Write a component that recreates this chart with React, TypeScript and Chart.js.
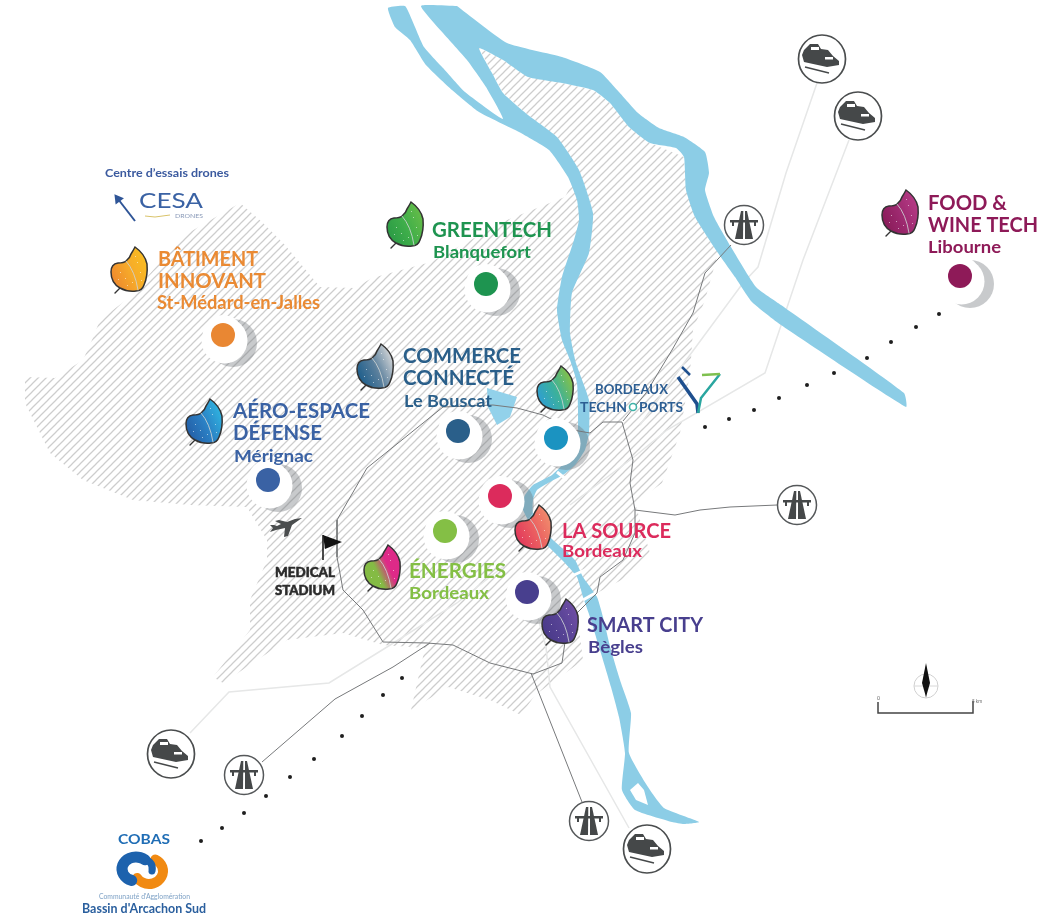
import React, { useEffect, useRef } from "react";
import { Chart, registerables } from "chart.js";

Chart.register(...registerables);

type P = [number, number];

// ---- map outlines (in picture units) ----
const hatchedArea: P[] = [[25,377],[55,378],[83,360],[92,340],[100,320],[130,297],[160,262],[190,232],[240,203],[262,222],[285,245],[320,287],[355,288],[372,278],[431,262],[507,220],[565,197],[579,170],[557,137],[528,115],[503,93],[492,73],[479,48],[503,60],[528,77],[562,83],[593,90],[610,103],[629,127],[650,143],[684,157],[686,190],[695,217],[718,253],[705,300],[693,330],[690,373],[680,433],[662,483],[635,503],[650,553],[627,577],[597,593],[577,613],[583,660],[560,677],[535,695],[521,715],[490,700],[448,687],[411,710],[425,648],[383,645],[343,633],[287,640],[223,683],[213,677],[250,630],[250,600],[267,560],[267,540],[247,507],[190,505],[133,500],[83,480],[50,453],[25,403],[25,377]];

const garonneUpper: P[] = [[457,6],[507,43],[562,57],[600,72],[619,92],[638,113],[659,128],[684,137],[705,152],[709,173],[705,190],[714,217],[731,247],[756,287],[781,305],[904,393],[906,407],[781,325],[752,302],[735,277],[718,253],[695,217],[686,190],[684,157],[676,148],[650,143],[629,127],[610,103],[593,90],[562,83],[528,77],[503,60],[479,48],[492,73],[503,93],[528,115],[557,137],[579,170],[593,213],[589,253],[572,293],[570,333],[576,363],[589,400],[589,433],[585,450],[575,465],[563,475],[550,482],[537,490],[533,500],[533,513],[550,537],[575,560],[583,577],[597,597],[603,617],[611,650],[621,683],[631,713],[629,753],[648,787],[664,808],[699,822],[684,824],[672,822],[635,810],[622,790],[625,753],[619,717],[611,687],[600,650],[590,617],[583,597],[577,577],[562,560],[540,538],[527,518],[522,507],[525,495],[533,485],[552,475],[565,462],[573,450],[578,430],[577,383],[570,360],[562,340],[557,310],[562,277],[574,240],[579,220],[577,200],[568,177],[549,150],[519,132],[479,112],[452,90],[426,65],[410,40],[395,27],[388,8],[405,6],[412,20],[424,47],[443,68],[465,92],[503,119],[486,87],[467,60],[443,33],[421,6],[457,6]];
const riverIsland: P[] = [[630,790],[638,783],[644,790],[648,805],[636,800],[630,790]];
const bouscatLake: P[] = [[487,388],[517,397],[510,417],[497,425],[488,407],[487,388]];
const bridgeA: P[] = [[557,472],[567,480]];
const bridgeB: P[] = [[574,575],[587,569]];
const bridgeC: P[] = [[583,600],[597,592]];

// ---- roads ----
const ringRoad: P[] = [[443,407],[367,468],[337,520],[337,557],[343,590],[363,610],[383,642],[427,643],[453,645],[490,663],[533,674],[562,663],[565,642],[577,613],[597,593],[600,577],[623,560],[635,533],[635,510],[630,483],[633,460],[622,422],[603,422],[590,433],[573,430],[543,415],[517,408],[493,405],[443,407]];
const motorwayNorthEast: P[] = [[623,421],[646,393],[672,350],[693,313],[705,273],[731,245]];
const motorwayEast: P[] = [[635,510],[675,515],[700,510],[730,507],[777,505]];
const motorwaySouthWest: P[] = [[430,643],[393,667],[335,699],[262,762]];
const motorwaySouth: P[] = [[531,673],[582,802]];
const railNorthA: P[] = [[817,83],[786,173],[758,267],[743,283],[684,363],[640,425]];
const railNorthB: P[] = [[849,140],[803,260],[765,373],[667,430],[634,457],[570,505]];
const railSouthWest: P[] = [[190,733],[229,692],[329,683],[387,647],[457,603],[505,565]];
const railSouth: P[] = [[629,828],[550,687],[546,647],[533,600]];

// ---- dotted links ----
const dotsLibourne: P[] = [[705,427],[729,419],[754,410],[779,398],[807,385],[834,373],[867,358],[891,342],[916,327],[939,314]];
const dotsArcachon: P[] = [[402,678],[383,695],[362,716],[342,736],[314,759],[290,777],[266,796],[244,813],[222,828],[201,841]];

// ---- places ----
const hubPositions: P[] = [[223,335],[486,284],[458,431],[268,480],[556,438],[500,496],[445,531],[527,592],[960,276]];
const hubColours = ["#e98733","#1e9450","#2a5f8a","#3a62a4","#1b93c1","#dc2b5c","#84bf45","#483f8e","#8e1a58"];
const butterflyPositions: P[] = [[129,270],[405,225],[375,367],[204,422],[555,389],[533,528],[382,568],[560,622],[900,213]];
const butterflyStops: string[][] = [
  ["#ee8a2e","#f6a92a","#f9bb22"],
  ["#2c9c46","#3fae4a","#62bb48"],
  ["#1f5f8c","#5a7f9c","#c9ced2"],
  ["#2460a8","#2b80c4","#2fb0de"],
  ["#2f9fd0","#3cb19a","#82c04c"],
  ["#e23a5c","#eb5e60","#f0896c"],
  ["#84bb44","#84bb44","#de2a88","#de2a88"],
  ["#4a3a8a","#574395","#6d4da3"],
  ["#8a1c5a","#9e2a70","#b43a84"],
];
const trainPositions: P[] = [[822,59],[858,116],[171,754],[647,849]];
const motorwayPositions: P[] = [[744,225],[797,505],[244,775],[589,821]];

// ---- texts ----
const labelTexts = ["BÂTIMENT","INNOVANT","St-Médard-en-Jalles","GREENTECH","Blanquefort","COMMERCE","CONNECTÉ","Le Bouscat","AÉRO-ESPACE","DÉFENSE","Mérignac","LA SOURCE","Bordeaux","ÉNERGIES","Bordeaux","SMART CITY","Bègles","FOOD &","WINE TECH","Libourne","BORDEAUX","TECHN","PORTS","MEDICAL","STADIUM","Centre d’essais drones","CESA","DRONES","COBAS","Communauté d'Agglomération","Bassin d'Arcachon Sud","0","5 km"];
const labelX = [158,158,157,432,433,403,403,404,233,233,234,562,562,409,409,587,588,928,928,928,595,580,639,275,275,105,139,175,118,99,82,877,972];
const labelY = [266,288,309,237,258,363,385,407,418,440,462,538,557,578,599,632,653,210,232,253,394,412,412,577,595,177,208,218,844,899,913,700,703];
const labelWidth = [100,108,163,120,98,118,111,88,137,89,79,109,80,97,80,116,55,79,110,73,73,47,44,60,60,124,64,28,52,91,124,3,10];
const labelSize = [20,20,18,20,17,20,20,17,20,20,17,20,17,20,17,20,17,20,20,17,14,14,14,13,13,11,22,6,14,7,13,6,6];
const labelWeight = [700,700,700,700,700,700,700,700,700,700,700,700,700,700,700,700,700,700,700,700,700,700,700,900,900,700,400,400,700,400,700,400,400];
const labelColour = ["#ea8a33","#ea8a33","#ea8a33","#1e9450","#1e9450","#2a5f8a","#2a5f8a","#2a5f8a","#3a62a4","#3a62a4","#3a62a4","#dc2b5c","#dc2b5c","#84bf45","#84bf45","#483f8e","#483f8e","#8e1a58","#8e1a58","#8e1a58","#2c5e93","#2c5e93","#2c5e93","#2b2b2b","#2b2b2b","#3b5a9f","#3a62a4","#8a9ab8","#1f6db5","#7fa2c6","#2a5f9e","#666666","#666666"];

// ---- small furniture ----
const cesaArrow: P[] = [[118,199],[135,221]];
const cesaWave: P[] = [[145,216],[155,217],[170,215]];
const flagPole: P[] = [[323,535],[323,560]];
const flagCloth: P[] = [[323,535],[342,542],[325,549],[323,535]];
const planePosition: P[] = [[286,527]];
const cobasPosition: P[] = [[143,870]];
const northRing: P[] = [[926,686]];
const northNeedle: P[] = [[926,663],[930,683],[926,697],[922,683],[926,663]];
const northCrossA: P[] = [[914,686],[938,686]];
const northCrossB: P[] = [[926,674],[926,698]];
const scaleBar: P[] = [[878,702],[878,713],[973,713],[973,701]];
const portsRing: P[] = [[633,407]];
const logoBlueA: P[] = [[678,377],[697,404],[698,413]];
const logoBlueB: P[] = [[682,367],[690,375]];
const logoGreenBar: P[] = [[702,375],[720,374]];
const logoTealStroke: P[] = [[720,374],[701,398],[698,413]];

const toXY = (list: P[]) => list.map(([x, y]) => ({ x, y }));

function tile(size: number, draw: (c: CanvasRenderingContext2D) => void, h = size) {
  const cv = document.createElement("canvas");
  cv.width = size;
  cv.height = h;
  draw(cv.getContext("2d") as CanvasRenderingContext2D);
  return cv;
}

function makeHatch(ctx: CanvasRenderingContext2D) {
  const t = tile(8, (c) => {
    c.strokeStyle = "#cdcdcd";
    c.lineWidth = 1.25;
    c.beginPath();
    c.moveTo(-1, 9); c.lineTo(9, -1);
    c.moveTo(-2, 2); c.lineTo(2, -2);
    c.moveTo(6, 10); c.lineTo(10, 6);
    c.stroke();
  });
  return ctx.createPattern(t, "repeat") as CanvasPattern;
}

function makeButterfly(stops: string[]) {
  return tile(48, (c) => {
    c.translate(24, 28);
    const g = c.createLinearGradient(-17, 8, 17, -8);
    stops.forEach((s, i) => g.addColorStop(i / (stops.length - 1), s));
    c.lineCap = "round";
    c.strokeStyle = "#333";
    c.lineWidth = 1.4;
    c.beginPath(); c.moveTo(-8, 17); c.lineTo(-14, 23); c.stroke();
    c.beginPath();
    c.moveTo(6, -23);
    c.quadraticCurveTo(16, -16, 18, -6);
    c.quadraticCurveTo(19, 6, 15, 15);
    c.quadraticCurveTo(13, 21, 7, 21);
    c.quadraticCurveTo(-2, 22, -9, 18);
    c.quadraticCurveTo(-18, 13, -18, 2);
    c.quadraticCurveTo(-18, -6, -11, -7);
    c.quadraticCurveTo(-5, -7, -3, -9);
    c.quadraticCurveTo(1, -12, 2, -16);
    c.quadraticCurveTo(4, -19, 6, -23);
    c.closePath();
    c.fillStyle = g;
    c.fill();
    c.lineWidth = 1.5;
    c.strokeStyle = "#333333";
    c.stroke();
    c.strokeStyle = "rgba(205,210,210,0.85)";
    c.lineWidth = 1;
    c.beginPath();
    c.moveTo(-3, -9);
    c.quadraticCurveTo(6, 1, 9, 20);
    c.stroke();
    c.fillStyle = "rgba(255,255,255,0.55)";
    [[-9,2],[-4,8],[-11,9],[3,12],[8,-8],[11,2],[6,-14],[12,10],[-2,15]].forEach(([x, y]) => c.fillRect(x, y, 1, 1));
  }, 56);
}

function makeTrain() {
  return tile(52, (c) => {
    c.translate(26, 26);
    c.strokeStyle = "#4a4d4e";
    c.lineWidth = 1.7;
    c.fillStyle = "#fff";
    c.beginPath(); c.ellipse(0, 0, 23.5, 24, 0, 0, Math.PI * 2); c.fill(); c.stroke();
    c.fillStyle = "#454849";
    c.beginPath();
    [[-18,-9],[-12,-15],[-4,-15],[-1,-10],[6,-9],[11,-3],[17,2],[17,6],[5,8],[-18,3],[-20,-4]].forEach(([x, y], i) => (i ? c.lineTo(x, y) : c.moveTo(x, y)));
    c.closePath(); c.fill();
    c.fillStyle = "#fff";
    c.fillRect(-11, -12, 8, 3);
    c.fillRect(3, -2, 8, 2.5);
    c.strokeStyle = "#454849";
    c.lineWidth = 1.3;
    c.beginPath(); c.moveTo(-17, 8); c.lineTo(7, 14); c.stroke();
  });
}

function makeMotorway() {
  return tile(44, (c) => {
    c.translate(22, 22);
    c.strokeStyle = "#55585a";
    c.lineWidth = 1.5;
    c.fillStyle = "#fff";
    c.beginPath(); c.arc(0, 0, 19.5, 0, Math.PI * 2); c.fill(); c.stroke();
    c.fillStyle = "#454849";
    c.beginPath(); c.moveTo(-3, -14); c.lineTo(-0.7, -14); c.lineTo(-1, 14); c.lineTo(-9, 14); c.closePath(); c.fill();
    c.beginPath(); c.moveTo(1, -14); c.lineTo(3, -14); c.lineTo(9, 14); c.lineTo(1, 14); c.closePath(); c.fill();
    c.fillRect(-14, -5, 28, 2.5);
    c.fillRect(-12, -5, 2, 6);
    c.fillRect(10, -5, 2, 6);
  });
}

function makePlane() {
  return tile(36, (c) => {
    c.translate(18, 18);
    c.fillStyle = "#4a4d4e";
    c.beginPath();
    [[16,-9],[6,-2],[2,9],[-2,10],[-1,1],[-10,3],[-16,5],[-13,1],[-16,-2],[-12,-2],[-9,-1],[-5,-3],[-11,-6],[-7,-7],[1,-5],[9,-8]].forEach(([x, y], i) => (i ? c.lineTo(x, y) : c.moveTo(x, y)));
    c.closePath(); c.fill();
  });
}

function makeCobas() {
  return tile(60, (c) => {
    c.translate(30, 30);
    c.lineCap = "round";
    c.strokeStyle = "#f18a12";
    c.lineWidth = 10;
    c.beginPath(); c.ellipse(6, 1, 14, 13, 0, -Math.PI * 0.35, Math.PI * 0.82); c.stroke();
    c.strokeStyle = "#1d62ad";
    c.lineWidth = 11;
    c.beginPath(); c.ellipse(-7, -1, 14, 12, 0, Math.PI * 0.6, Math.PI * 1.72); c.stroke();
    c.lineWidth = 7;
    c.beginPath(); c.moveTo(0, -12); c.quadraticCurveTo(11, -8, 9, 1); c.stroke();
  });
}

const polygon = (data: P[], colour: any, tension = 0) => ({ data: toXY(data), showLine: true, fill: "shape", backgroundColor: colour, borderWidth: 0, borderColor: "transparent", pointRadius: 0, tension });
const polyline = (data: P[], colour: string, width: number) => ({ data: toXY(data), showLine: true, fill: false, borderColor: colour, borderWidth: width, pointRadius: 0, tension: 0 });
const icons = (data: P[], style: any) => ({ data: toXY(data), showLine: false, pointStyle: style, pointRadius: 10, pointBorderWidth: 0 });
const discs = (data: P[], colour: any, radius: number) => ({ data: toXY(data), showLine: false, pointStyle: "circle", pointRadius: radius, pointBackgroundColor: colour, pointBorderWidth: 0 });

const textPlugin = {
  id: "mapTexts",
  afterDatasetsDraw(chart: any) {
    const { ctx, scales } = chart;
    ctx.save();
    ctx.textBaseline = "alphabetic";
    labelTexts.forEach((t, i) => {
      ctx.save();
      ctx.font = `${labelWeight[i]} ${labelSize[i]}px Lato, "Open Sans", sans-serif`;
      ctx.fillStyle = labelColour[i];
      const px = scales.x.getPixelForValue(labelX[i]);
      const py = scales.y.getPixelForValue(labelY[i]);
      const w = ctx.measureText(t).width;
      ctx.translate(px, py);
      ctx.scale(labelWidth[i] / w, 1);
      ctx.fillText(t, 0, 0);
      if (labelWeight[i] === 900) {
        ctx.strokeStyle = labelColour[i];
        ctx.lineWidth = 0.5;
        ctx.strokeText(t, 0, 0);
      }
      ctx.restore();
    });
    ctx.restore();
  },
};

export default function App() {
  const ref = useRef<HTMLCanvasElement>(null);
  useEffect(() => {
    const canvas = ref.current as HTMLCanvasElement;
    const ctx = canvas.getContext("2d") as CanvasRenderingContext2D;
    const layers: any[] = [
      polygon(hatchedArea, makeHatch(ctx)),
      polyline(railNorthA, "#e6e7e7", 1.5),
      polyline(railNorthB, "#e6e7e7", 1.5),
      polyline(railSouthWest, "#e6e7e7", 1.5),
      polyline(railSouth, "#e6e7e7", 1.5),
      polygon(garonneUpper, "#8ccde6", 0.15),
      polygon(riverIsland, "#ffffff"),
      polygon(bouscatLake, "#92d1ea"),
      polyline(bridgeA, "#ffffff", 3),
      polyline(bridgeB, "#ffffff", 3),
      polyline(bridgeC, "#ffffff", 3),
      polyline(ringRoad, "#77797b", 1),
      polyline(motorwayNorthEast, "#77797b", 1),
      polyline(motorwayEast, "#77797b", 1),
      polyline(motorwaySouthWest, "#77797b", 1),
      polyline(motorwaySouth, "#77797b", 1),
      discs(dotsLibourne, "#1e1e1e", 2),
      discs(dotsArcachon, "#1e1e1e", 2),
      discs(hubPositions.map(([x, y]) => [x + 10, y + 8] as P), "rgba(110,115,120,0.38)", 24),
      discs(hubPositions.map(([x, y]) => [x + 1.5, y + 5.5] as P), "#ffffff", 23),
      discs(hubPositions, "#ffffff", 20),
      discs(hubPositions, hubColours, 12),
      icons(butterflyPositions, butterflyStops.map(makeButterfly)),
      icons(trainPositions, makeTrain()),
      icons(motorwayPositions, makeMotorway()),
      icons(planePosition, makePlane()),
      icons(cobasPosition, makeCobas()),
      polyline(cesaArrow, "#2f5597", 2),
      { ...discs([cesaArrow[0]], "#2f5597", 6), pointStyle: "triangle", pointRotation: -37 },
      polyline(cesaWave, "#d9c36a", 1),
      polyline(flagPole, "#111111", 1.5),
      polygon(flagCloth, "#111111"),
      { data: toXY(northRing), showLine: false, pointStyle: "circle", pointRadius: 12, pointBackgroundColor: "transparent", pointBorderColor: "#d0d0d0", pointBorderWidth: 1 },
      polyline(northCrossA, "#d8d8d8", 1),
      polyline(northCrossB, "#d8d8d8", 1),
      polygon(northNeedle, "#111111"),
      polyline(scaleBar, "#444444", 1.5),
      { data: toXY(portsRing), showLine: false, pointStyle: "circle", pointRadius: 3.5, pointBackgroundColor: "#ffffff", pointBorderColor: "#3fb2a8", pointBorderWidth: 1.6 },
      polyline(logoBlueA, "#1e4f8e", 3.5),
      polyline(logoBlueB, "#1e4f8e", 2.5),
      polyline(logoTealStroke, "#2aa6a0", 2.5),
      polyline(logoGreenBar, "#7fc04f", 2.5),
    ];
    const total = layers.length;
    const chart = new Chart(canvas, {
      type: "scatter",
      data: { datasets: layers.map((l, i) => ({ ...l, order: total - i, clip: false })) },
      options: {
        responsive: false,
        animation: false,
        events: [],
        layout: { padding: 0, autoPadding: false },
        scales: {
          x: { type: "linear", min: 0, max: 1042, display: false },
          y: { type: "linear", min: 0, max: 915, reverse: true, display: false },
        },
        plugins: { legend: { display: false }, tooltip: { enabled: false }, title: { display: false } },
      },
      plugins: [textPlugin],
    } as any);
    return () => chart.destroy();
  }, []);
  return <canvas ref={ref} width={1042} height={915} style={{ position: "absolute", left: 0, top: 0, display: "block", background: "#ffffff", filter: "blur(0.5px)" }} />;
}
